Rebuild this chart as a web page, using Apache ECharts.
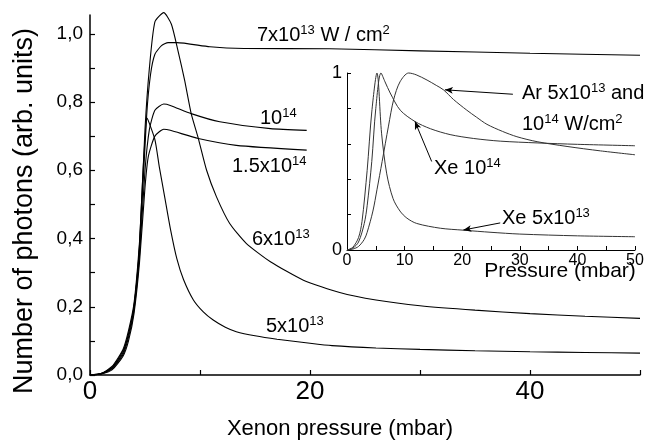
<!DOCTYPE html>
<html>
<head>
<meta charset="utf-8">
<script src="https://cdn.jsdelivr.net/npm/echarts@6/dist/echarts.min.js"></script>
<style>
  html, body { margin: 0; padding: 0; background: #fff; }
  #chart { width: 660px; height: 447px; }
</style>
</head>
<body>
<div id="chart"></div>
<script>
// main plot: xenon pressure (mbar) vs number of photons
var xe5e13 = [[0,0],[1,0.004],[2,0.025],[3,0.075],[3.5,0.13],[4,0.21],[4.5,0.39],[5.2,0.752],[5.9,0.69],[6.3,0.61],[6.8,0.52],[7.3,0.43],[7.9,0.34],[8.5,0.28],[9.4,0.22],[10.3,0.185],[11.2,0.161],[12.3,0.14],[13.3,0.127],[15,0.115],[17,0.105],[20,0.093],[22,0.086],[26,0.079],[30,0.075],[35,0.071],[40,0.068],[45,0.066],[50,0.064]]
var xe6e13 = [[0,0],[1,0.004],[2,0.02],[3,0.065],[3.5,0.12],[4,0.2],[4.5,0.38],[5,0.72],[5.4,0.9],[5.9,1.035],[6.7,1.062],[7.4,1.028],[8,0.95],[8.6,0.864],[9.2,0.766],[9.85,0.693],[10.6,0.6],[11.5,0.522],[12.7,0.444],[14.2,0.386],[16.4,0.332],[19.4,0.278],[22.7,0.242],[26,0.22],[30,0.203],[35,0.19],[40,0.18],[45,0.172],[50,0.166]]
var xe7e13 = [[0,0],[1,0.004],[2,0.022],[3,0.07],[3.5,0.12],[4,0.2],[4.5,0.37],[5.15,0.76],[5.5,0.88],[5.9,0.94],[6.5,0.965],[7.1,0.974],[7.9,0.974],[10.9,0.962],[14,0.957],[21.8,0.956],[30,0.95],[40,0.943],[50,0.937]]
var xe1e14 = [[0,0],[1,0.003],[2,0.018],[3,0.06],[3.5,0.11],[4,0.19],[4.5,0.35],[5,0.6],[5.4,0.72],[5.9,0.776],[6.7,0.794],[7.3,0.79],[9.2,0.766],[11.8,0.742],[16.4,0.722],[19.7,0.717]]
var xe15e14 = [[0,0],[1,0.003],[2,0.015],[3,0.055],[3.5,0.1],[4,0.18],[4.5,0.33],[5,0.55],[5.3,0.64],[5.9,0.7],[6.7,0.72],[7.3,0.717],[9.85,0.693],[13.3,0.673],[19.7,0.659]]

// inset: normalised signals
var inAr = [[0,0],[1,0.005],[2,0.02],[3,0.06],[3.5,0.1],[4.5,0.22],[5.2,0.34],[6.1,0.5],[7.2,0.7],[8.1,0.85],[9.2,0.95],[10.7,1],[12,0.99],[13.9,0.96],[15.5,0.93],[16.75,0.905],[18.5,0.85],[20.8,0.79],[22.5,0.75],[24.3,0.71],[27,0.67],[29.5,0.64],[33,0.612],[38.2,0.585],[44,0.56],[50,0.538]]
var inXe1e14 = [[0,0],[1,0.01],[2,0.045],[3,0.15],[3.5,0.25],[4.3,0.5],[5,0.8],[5.9,1],[6.6,0.95],[7.5,0.887],[9.24,0.79],[11.8,0.726],[14.5,0.685],[17.9,0.652],[22,0.63],[26.6,0.615],[33,0.605],[40,0.597],[50,0.589]]
var inXe5e13 = [[0,0],[1,0.015],[2,0.07],[2.6,0.16],[3.5,0.45],[4.3,0.78],[5.2,1],[6,0.66],[6.9,0.43],[8,0.29],[9.2,0.22],[10.4,0.18],[12.1,0.15],[16.2,0.123],[20.2,0.112],[25,0.1],[30,0.09],[40,0.08],[50,0.075]]

// arrows in the inset (from text to curve), data coords
var arrowAr = [[28.8,0.88],[17,0.905]]
var arrowXe14 = [[14.7,0.5],[11.8,0.726]]
var arrowXe13 = [[26.6,0.153],[20.2,0.113]]

// ticks / labels
var mainXTicks = [0,10,20,30,40,50]
var mainXLabels = [0,20,40]
var mainYTicks = [0,0.1,0.2,0.3,0.4,0.5,0.6,0.7,0.8,0.9,1.0]
var mainYLabels = [0,0.2,0.4,0.6,0.8,1.0]
var inXTicks = [0,5,10,15,20,25,30,35,40,45,50]
var inXLabels = [0,10,20,30,40,50]
var inYTicks = [0,0.2,0.4,0.6,0.8,1]
var inYLabels = [0,1]

var FONT = 'Liberation Sans, Arial, sans-serif'
var chart = echarts.init(document.getElementById('chart'))

function ax(extra) {
  return Object.assign({
    type: 'value',
    splitLine: { show: false },
    axisLine: { show: true, onZero: false, lineStyle: { color: '#000', width: 1.5 } },
    axisTick: { show: true, inside: true, length: 5, lineStyle: { color: '#000', width: 1.2 } }
  }, extra)
}

function curve(data, grid, w, c, sm) {
  return {
    type: 'line', data: data, xAxisIndex: grid, yAxisIndex: grid,
    showSymbol: false, symbol: 'none', clip: false,
    smooth: sm,
    lineStyle: { color: c || '#000', width: w }
  }
}

function arrow(pts) {
  return {
    silent: true, animation: false,
    symbol: ['none', 'arrow'], symbolSize: [5, 8],
    label: { show: false },
    lineStyle: { color: '#000', width: 1, type: 'solid' },
    data: [[{ coord: pts[0] }, { coord: pts[1] }]]
  }
}

var sup = { fontSize: 13, verticalAlign: 'top', lineHeight: 12, fontFamily: FONT, fill: '#000' }
function label(x, y, text) {
  return {
    type: 'text', x: x, y: y,
    style: {
      text: text, fontSize: 20, fontFamily: FONT, fill: '#000', lineHeight: 23,
      rich: { s: sup, n: { fontSize: 20, fontFamily: FONT, lineHeight: 23 } }
    }
  }
}

chart.setOption({
  animation: false,
  backgroundColor: '#fff',
  grid: [
    { left: 90, top: 15, width: 550, height: 360 },
    { left: 347, top: 73, width: 288, height: 177 }
  ],
  xAxis: [
    ax({ gridIndex: 0, min: 0, max: 50,
      axisTick: { inside: true, length: 5, customValues: mainXTicks, lineStyle: { color: '#000', width: 1.2 } },
      axisLabel: { customValues: mainXLabels, fontSize: 26, fontFamily: FONT, color: '#000', margin: 4 } }),
    ax({ gridIndex: 1, min: 0, max: 50,
      axisLine: { show: true, onZero: false, lineStyle: { color: '#000', width: 1 } },
      axisTick: { inside: true, length: 4, customValues: inXTicks, lineStyle: { color: '#000', width: 1 } },
      axisLabel: { customValues: inXLabels, fontSize: 16, fontFamily: FONT, color: '#000', margin: 3 } })
  ],
  yAxis: [
    ax({ gridIndex: 0, min: 0, max: 1.055,
      axisTick: { inside: true, length: 5, customValues: mainYTicks, lineStyle: { color: '#000', width: 1.2 } },
      axisLabel: { customValues: mainYLabels, fontSize: 19, fontFamily: FONT, color: '#000', margin: 7,
        formatter: function (v) { return v.toFixed(1).replace('.', ',') } } }),
    ax({ gridIndex: 1, min: 0, max: 1,
      axisLine: { show: true, onZero: false, lineStyle: { color: '#000', width: 1 } },
      axisTick: { inside: true, length: 4, customValues: inYTicks, lineStyle: { color: '#000', width: 1 } },
      axisLabel: { customValues: inYLabels, fontSize: 18, fontFamily: FONT, color: '#000', margin: 5,
        formatter: function (v) { return String(Math.round(v)) } } })
  ],
  series: [
    curve(xe5e13, 0, 1.1, '#000', 0.2),
    curve(xe6e13, 0, 1.1, '#000', 0.2),
    curve(xe7e13, 0, 1.1, '#000', 0.2),
    curve(xe1e14, 0, 1.1, '#000', 0.2),
    curve(xe15e14, 0, 1.1, '#000', 0.2),
    Object.assign(curve(inAr, 1, 1, '#333', 0.3), { markLine: arrow(arrowAr) }),
    Object.assign(curve(inXe1e14, 1, 1, '#333', 0.3), { markLine: arrow(arrowXe14) }),
    Object.assign(curve(inXe5e13, 1, 1, '#333', 0.3), { markLine: arrow(arrowXe13) })
  ],
  graphic: [
    { type: 'text', x: 25, y: 211, rotation: Math.PI / 2,
      style: { text: 'Number of photons (arb. units)', fontSize: 27, fontFamily: FONT, fill: '#000', align: 'center', verticalAlign: 'middle' } },
    { type: 'text', x: 340, y: 429,
      style: { text: 'Xenon pressure (mbar)', fontSize: 22, fontFamily: FONT, fill: '#000', align: 'center', verticalAlign: 'middle' } },
    { type: 'text', x: 560, y: 271,
      style: { text: 'Pressure (mbar)', fontSize: 21, fontFamily: FONT, fill: '#000', align: 'center', verticalAlign: 'middle' } },
    label(257, 24, '{n|7x10}{s|13}{n| W / cm}{s|2}'),
    label(260, 107, '{n|10}{s|14}'),
    label(232, 155, '{n|1.5x10}{s|14}'),
    label(252, 228, '{n|6x10}{s|13}'),
    label(266, 315, '{n|5x10}{s|13}'),
    label(522, 82, '{n|Ar 5x10}{s|13}{n| and}'),
    label(522, 113, '{n|10}{s|14}{n| W/cm}{s|2}'),
    label(434, 157, '{n|Xe 10}{s|14}'),
    label(502, 207, '{n|Xe 5x10}{s|13}')
  ]
})
</script>
</body>
</html>
